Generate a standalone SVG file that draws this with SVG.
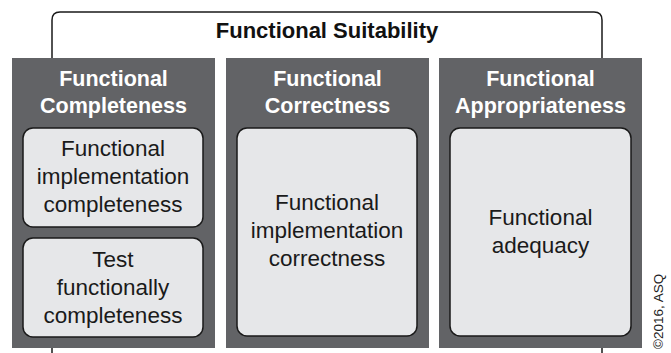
<svg xmlns="http://www.w3.org/2000/svg" width="671" height="353" viewBox="0 0 671 353">
<style>
.col{fill:#626366;}
.box{fill:#e6e7e9;stroke:#1a1a1a;stroke-width:1.5;}
.hdr{font-family:"Liberation Sans",Arial,sans-serif;font-weight:bold;font-size:21.5px;fill:#ffffff;text-anchor:middle;}
.lbl{font-family:"Liberation Sans",Arial,sans-serif;font-size:22.5px;fill:#1a1a1a;text-anchor:middle;}
.title{font-family:"Liberation Sans",Arial,sans-serif;font-weight:bold;font-size:22px;fill:#111;text-anchor:middle;}
.cpy{font-family:"Liberation Sans",Arial,sans-serif;font-size:13.5px;fill:#222;}
</style>
<rect width="671" height="353" fill="#ffffff"/>
<g id="connectors">
<path d="M52,353 V20 Q52,12 60,12 H594 Q602,12 602,20 V353" fill="none" stroke="#1a1a1a" stroke-width="1.5"/>
</g>
<g id="functional-suitability">
<text class="title" x="327" y="38">Functional Suitability</text>
</g>
<g id="functional-completeness">
<rect class="col" x="12" y="58" width="203" height="290"/>
<text class="hdr" x="113.5" y="86">Functional</text>
<text class="hdr" x="113.5" y="113">Completeness</text>
</g>
<g id="functional-implementation-completeness">
<rect class="box" x="23" y="128" width="180" height="99" rx="10"/>
<text class="lbl" x="113" y="156">Functional</text>
<text class="lbl" x="113" y="184">implementation</text>
<text class="lbl" x="113" y="212">completeness</text>
</g>
<g id="test-functionally-completeness">
<rect class="box" x="23" y="238" width="180" height="99" rx="10"/>
<text class="lbl" x="113" y="267">Test</text>
<text class="lbl" x="113" y="295">functionally</text>
<text class="lbl" x="113" y="323">completeness</text>
</g>
<g id="functional-correctness">
<rect class="col" x="226" y="58" width="203" height="290"/>
<text class="hdr" x="327.5" y="86">Functional</text>
<text class="hdr" x="327.5" y="113">Correctness</text>
</g>
<g id="functional-implementation-correctness">
<rect class="box" x="237" y="128" width="180" height="208" rx="10"/>
<text class="lbl" x="327" y="210">Functional</text>
<text class="lbl" x="327" y="238">implementation</text>
<text class="lbl" x="327" y="266">correctness</text>
</g>
<g id="functional-appropriateness">
<rect class="col" x="439" y="58" width="203" height="290"/>
<text class="hdr" x="540.5" y="86">Functional</text>
<text class="hdr" x="540.5" y="113">Appropriateness</text>
</g>
<g id="functional-adequacy">
<rect class="box" x="450" y="128" width="181" height="208" rx="10"/>
<text class="lbl" x="540.5" y="225">Functional</text>
<text class="lbl" x="540.5" y="253">adequacy</text>
</g>
<text class="cpy" transform="translate(663,349) rotate(-90)">©2016, ASQ</text>
</svg>
